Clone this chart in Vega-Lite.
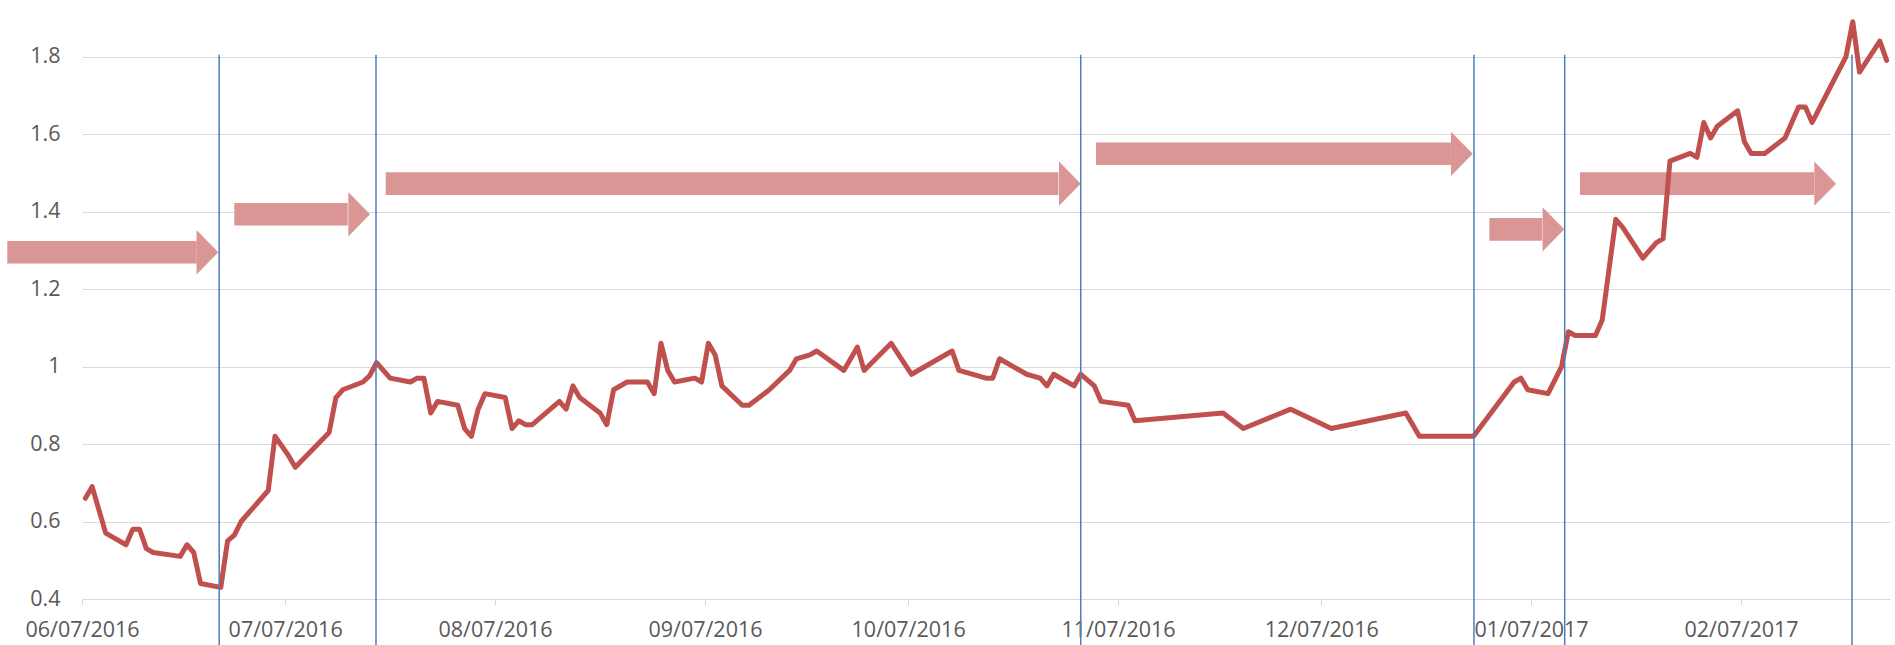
{
  "$schema": "https://vega.github.io/schema/vega-lite/v6.json",
  "width": 1808,
  "height": 599,
  "autosize": {"type": "none"},
  "padding": {"left": 82, "top": 0, "right": 5, "bottom": 46},
  "background": "white",
  "config": {"view": {"stroke": null}, "font": "Open Sans"},
  "datasets": {
    "series": [
      {"date": "2016-06-07", "value": 0.66},
      {"date": "2016-06-08", "value": 0.69},
      {"date": "2016-06-10", "value": 0.57},
      {"date": "2016-06-13", "value": 0.54},
      {"date": "2016-06-14", "value": 0.58},
      {"date": "2016-06-15", "value": 0.58},
      {"date": "2016-06-16", "value": 0.53},
      {"date": "2016-06-17", "value": 0.52},
      {"date": "2016-06-21", "value": 0.51},
      {"date": "2016-06-22", "value": 0.54},
      {"date": "2016-06-23", "value": 0.52},
      {"date": "2016-06-24", "value": 0.44},
      {"date": "2016-06-27", "value": 0.43},
      {"date": "2016-06-28", "value": 0.55},
      {"date": "2016-06-29", "value": 0.565},
      {"date": "2016-06-30", "value": 0.60},
      {"date": "2016-07-04", "value": 0.68},
      {"date": "2016-07-05", "value": 0.82},
      {"date": "2016-07-07", "value": 0.77},
      {"date": "2016-07-08", "value": 0.74},
      {"date": "2016-07-13", "value": 0.83},
      {"date": "2016-07-14", "value": 0.92},
      {"date": "2016-07-15", "value": 0.94},
      {"date": "2016-07-18", "value": 0.96},
      {"date": "2016-07-19", "value": 0.977},
      {"date": "2016-07-20", "value": 1.01},
      {"date": "2016-07-22", "value": 0.97},
      {"date": "2016-07-25", "value": 0.96},
      {"date": "2016-07-26", "value": 0.97},
      {"date": "2016-07-27", "value": 0.97},
      {"date": "2016-07-28", "value": 0.88},
      {"date": "2016-07-29", "value": 0.91},
      {"date": "2016-08-01", "value": 0.90},
      {"date": "2016-08-02", "value": 0.84},
      {"date": "2016-08-03", "value": 0.82},
      {"date": "2016-08-04", "value": 0.89},
      {"date": "2016-08-05", "value": 0.93},
      {"date": "2016-08-08", "value": 0.92},
      {"date": "2016-08-09", "value": 0.84},
      {"date": "2016-08-10", "value": 0.86},
      {"date": "2016-08-11", "value": 0.85},
      {"date": "2016-08-12", "value": 0.85},
      {"date": "2016-08-16", "value": 0.91},
      {"date": "2016-08-17", "value": 0.89},
      {"date": "2016-08-18", "value": 0.95},
      {"date": "2016-08-19", "value": 0.92},
      {"date": "2016-08-22", "value": 0.88},
      {"date": "2016-08-23", "value": 0.85},
      {"date": "2016-08-24", "value": 0.94},
      {"date": "2016-08-26", "value": 0.96},
      {"date": "2016-08-29", "value": 0.96},
      {"date": "2016-08-30", "value": 0.93},
      {"date": "2016-08-31", "value": 1.06},
      {"date": "2016-09-01", "value": 0.99},
      {"date": "2016-09-02", "value": 0.96},
      {"date": "2016-09-05", "value": 0.97},
      {"date": "2016-09-06", "value": 0.96},
      {"date": "2016-09-07", "value": 1.06},
      {"date": "2016-09-08", "value": 1.03},
      {"date": "2016-09-09", "value": 0.95},
      {"date": "2016-09-12", "value": 0.90},
      {"date": "2016-09-13", "value": 0.90},
      {"date": "2016-09-16", "value": 0.94},
      {"date": "2016-09-19", "value": 0.99},
      {"date": "2016-09-20", "value": 1.02},
      {"date": "2016-09-22", "value": 1.03},
      {"date": "2016-09-23", "value": 1.04},
      {"date": "2016-09-27", "value": 0.99},
      {"date": "2016-09-29", "value": 1.05},
      {"date": "2016-09-30", "value": 0.99},
      {"date": "2016-10-04", "value": 1.06},
      {"date": "2016-10-07", "value": 0.98},
      {"date": "2016-10-13", "value": 1.04},
      {"date": "2016-10-14", "value": 0.99},
      {"date": "2016-10-18", "value": 0.97},
      {"date": "2016-10-19", "value": 0.97},
      {"date": "2016-10-20", "value": 1.02},
      {"date": "2016-10-24", "value": 0.98},
      {"date": "2016-10-26", "value": 0.97},
      {"date": "2016-10-27", "value": 0.95},
      {"date": "2016-10-28", "value": 0.98},
      {"date": "2016-10-31", "value": 0.95},
      {"date": "2016-11-01", "value": 0.98},
      {"date": "2016-11-03", "value": 0.95},
      {"date": "2016-11-04", "value": 0.91},
      {"date": "2016-11-08", "value": 0.90},
      {"date": "2016-11-09", "value": 0.86},
      {"date": "2016-11-22", "value": 0.88},
      {"date": "2016-11-25", "value": 0.84},
      {"date": "2016-12-02", "value": 0.89},
      {"date": "2016-12-08", "value": 0.84},
      {"date": "2016-12-19", "value": 0.88},
      {"date": "2016-12-21", "value": 0.82},
      {"date": "2016-12-29", "value": 0.82},
      {"date": "2017-01-04", "value": 0.96},
      {"date": "2017-01-05", "value": 0.97},
      {"date": "2017-01-06", "value": 0.94},
      {"date": "2017-01-09", "value": 0.93},
      {"date": "2017-01-11", "value": 1.00},
      {"date": "2017-01-12", "value": 1.09},
      {"date": "2017-01-13", "value": 1.08},
      {"date": "2017-01-16", "value": 1.08},
      {"date": "2017-01-17", "value": 1.12},
      {"date": "2017-01-19", "value": 1.38},
      {"date": "2017-01-20", "value": 1.36},
      {"date": "2017-01-23", "value": 1.28},
      {"date": "2017-01-25", "value": 1.32},
      {"date": "2017-01-26", "value": 1.33},
      {"date": "2017-01-27", "value": 1.53},
      {"date": "2017-01-30", "value": 1.55},
      {"date": "2017-01-31", "value": 1.54},
      {"date": "2017-02-01", "value": 1.63},
      {"date": "2017-02-02", "value": 1.59},
      {"date": "2017-02-03", "value": 1.62},
      {"date": "2017-02-06", "value": 1.66},
      {"date": "2017-02-07", "value": 1.58},
      {"date": "2017-02-08", "value": 1.55},
      {"date": "2017-02-10", "value": 1.55},
      {"date": "2017-02-13", "value": 1.59},
      {"date": "2017-02-15", "value": 1.67},
      {"date": "2017-02-16", "value": 1.67},
      {"date": "2017-02-17", "value": 1.63},
      {"date": "2017-02-22", "value": 1.80},
      {"date": "2017-02-23", "value": 1.89},
      {"date": "2017-02-24", "value": 1.76},
      {"date": "2017-02-27", "value": 1.84},
      {"date": "2017-02-28", "value": 1.79}
    ],
    "arrows": [
      {"start": "2016-05-26T23:15:00Z", "shaftEnd": "2016-06-23T22:30:00Z", "tip": "2016-06-27T03:00:00Z", "level": 1.295},
      {"start": "2016-06-29T11:45:00Z", "shaftEnd": "2016-07-16T05:45:00Z", "tip": "2016-07-19T12:45:00Z", "level": 1.393},
      {"start": "2016-07-21T20:30:00Z", "shaftEnd": "2016-10-29T04:30:00Z", "tip": "2016-11-01T11:45:00Z", "level": 1.472},
      {"start": "2016-11-03T18:00:00Z", "shaftEnd": "2016-12-26T03:45:00Z", "tip": "2016-12-29T09:00:00Z", "level": 1.549},
      {"start": "2016-12-31T20:00:00Z", "shaftEnd": "2017-01-08T15:30:00Z", "tip": "2017-01-11T21:30:00Z", "level": 1.354},
      {"start": "2017-01-14T05:15:00Z", "shaftEnd": "2017-02-17T18:45:00Z", "tip": "2017-02-21T00:45:00Z", "level": 1.472}
    ],
    "markers": [
      {"at": "2016-06-27T06:15:00Z"},
      {"at": "2016-07-20T10:00:00Z"},
      {"at": "2016-11-01T11:45:00Z"},
      {"at": "2016-12-29T13:30:00Z"},
      {"at": "2017-01-11T23:00:00Z"},
      {"at": "2017-02-23T09:15:00Z"}
    ]
  },
  "layer": [
    {
      "data": {"name": "series"},
      "mark": {"type": "line", "color": "#C0504D", "strokeWidth": 5, "opacity": 0},
      "encoding": {
        "x": {
          "field": "date", "type": "temporal", "timeUnit": "utcyearmonthdate", "bandPosition": 0.5,
          "scale": {"type": "utc", "domain": [{"year": 2016, "month": 6, "date": 7, "utc": true}, {"year": 2017, "month": 3, "date": 1, "utc": true}]},
          "axis": {
            "values": [
              {"year": 2016, "month": 6, "date": 7, "utc": true},
              {"year": 2016, "month": 7, "date": 7, "utc": true},
              {"year": 2016, "month": 8, "date": 7, "utc": true},
              {"year": 2016, "month": 9, "date": 7, "utc": true},
              {"year": 2016, "month": 10, "date": 7, "utc": true},
              {"year": 2016, "month": 11, "date": 7, "utc": true},
              {"year": 2016, "month": 12, "date": 7, "utc": true},
              {"year": 2017, "month": 1, "date": 7, "utc": true},
              {"year": 2017, "month": 2, "date": 7, "utc": true}
            ],
            "labelExpr": "utcFormat(datum.value, '%m/%d/%Y')", "title": null, "grid": false,
            "domainColor": "#D9D9D9", "domainWidth": 1, "tickColor": "#D9D9D9", "tickWidth": 1, "tickSize": 6,
            "labelFont": "Open Sans", "labelFontSize": 21.5, "labelColor": "#595959", "labelPadding": 14,
            "labelFlush": false, "labelOverlap": false
          }
        },
        "y": {
          "field": "value", "type": "quantitative",
          "scale": {"domain": [0.4, 1.946], "nice": false, "zero": false},
          "axis": {
            "values": [0.4, 0.6, 0.8, 1, 1.2, 1.4, 1.6, 1.8], "format": ".2~f", "title": null,
            "domain": false, "ticks": false, "grid": true, "gridColor": "#D9D9D9", "gridWidth": 1,
            "labelFont": "Open Sans", "labelFontSize": 21.5, "labelColor": "#595959", "labelPadding": 22
          }
        }
      }
    },
    {
      "data": {"name": "arrows"},
      "mark": {"type": "rule", "color": "#D99694", "strokeWidth": 22.6, "strokeCap": "butt"},
      "encoding": {
        "x": {"field": "start", "type": "temporal", "scale": {"type": "utc"}},
        "x2": {"field": "shaftEnd"},
        "y": {"field": "level", "type": "quantitative"}
      }
    },
    {
      "data": {"name": "arrows"},
      "mark": {"type": "point", "shape": "M-0.98,-1L0,0L-0.98,1Z", "size": 1962, "filled": true, "color": "#D99694", "opacity": 1, "strokeWidth": 0},
      "encoding": {
        "x": {"field": "tip", "type": "temporal", "scale": {"type": "utc"}},
        "y": {"field": "level", "type": "quantitative"}
      }
    },
    {
      "data": {"name": "series"},
      "mark": {"type": "line", "color": "#C0504D", "strokeWidth": 5, "strokeJoin": "round", "strokeCap": "round"},
      "encoding": {
        "x": {"field": "date", "type": "temporal", "timeUnit": "utcyearmonthdate", "bandPosition": 0.5, "scale": {"type": "utc"}},
        "y": {"field": "value", "type": "quantitative"}
      }
    },
    {
      "data": {"name": "markers"},
      "mark": {"type": "rule", "color": "#4A7EBB", "strokeWidth": 1.5},
      "encoding": {
        "x": {"field": "at", "type": "temporal", "scale": {"type": "utc"}},
        "y": {"datum": 1.805},
        "y2": {"datum": 0.25}
      }
    }
  ]
}
